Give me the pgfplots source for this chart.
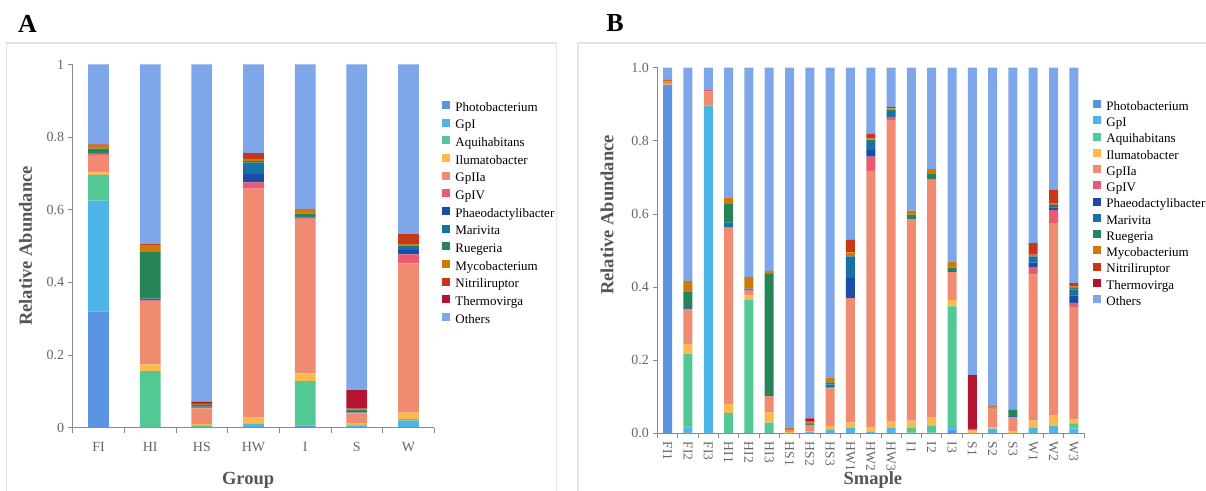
\documentclass[border=0pt]{standalone}
\usepackage{fontspec}
\setmainfont{Liberation Serif}
\usepackage{pgfplots}
\usepackage{pgfplotstable}
\pgfplotsset{compat=1.18}
\definecolor{cPhoto}{HTML}{5B94E2}
\definecolor{cGpI}{HTML}{4FB4E6}
\definecolor{cAqui}{HTML}{52C994}
\definecolor{cIlum}{HTML}{FDB94B}
\definecolor{cGpIIa}{HTML}{F08A70}
\definecolor{cGpIV}{HTML}{EA5A73}
\definecolor{cPhaeo}{HTML}{1C4CA8}
\definecolor{cMari}{HTML}{1672A4}
\definecolor{cRueg}{HTML}{258557}
\definecolor{cMyco}{HTML}{CE7A08}
\definecolor{cNitri}{HTML}{C83818}
\definecolor{cTherm}{HTML}{B41430}
\definecolor{cOthers}{HTML}{7DA7E8}
\definecolor{framegray}{HTML}{E4E4E4}
\definecolor{axisgray}{HTML}{8A8A8A}
\definecolor{tickgray}{HTML}{666666}
\definecolor{labelgray}{HTML}{555555}

\pgfplotstableread{
idx Photo GpI Aqui Ilum GpIIa GpIV Phaeo Mari Rueg Myco Nitri Therm Others
0 0.319 0.306 0.071 0.007 0.048 0.002 0 0.002 0.013 0.010 0.002 0 0.220
1 0 0.002 0.153 0.019 0.175 0.001 0.001 0.004 0.130 0.018 0.002 0 0.495
2 0 0.002 0.004 0.004 0.043 0.002 0.001 0.002 0.004 0.003 0.003 0.003 0.929
3 0.002 0.007 0.001 0.017 0.631 0.017 0.023 0.032 0.004 0.006 0.016 0 0.244
4 0.004 0.002 0.122 0.021 0.425 0.002 0 0.002 0.011 0.013 0 0 0.398
5 0.001 0.005 0.001 0.005 0.027 0.002 0 0.002 0.005 0.002 0.002 0.051 0.897
6 0.002 0.017 0.004 0.018 0.411 0.025 0.012 0.012 0.001 0.003 0.028 0 0.467
}\tabA

\pgfplotstableread{
idx Photo GpI Aqui Ilum GpIIa GpIV Phaeo Mari Rueg Myco Nitri Therm Others
0 0.953 0 0 0.002 0.007 0 0 0 0.002 0.003 0 0 0.033
1 0.002 0.014 0.202 0.025 0.095 0.002 0 0.003 0.045 0.028 0 0 0.584
2 0 0.893 0.004 0 0.038 0.004 0 0 0 0 0 0 0.061
3 0 0 0.056 0.024 0.481 0.002 0 0.014 0.050 0.018 0 0 0.355
4 0 0 0.365 0.012 0.012 0.002 0.002 0.003 0 0.031 0 0 0.573
5 0 0 0.029 0.028 0.043 0.002 0 0 0.334 0.008 0 0 0.556
6 0 0 0 0.003 0.006 0 0 0 0.002 0.005 0 0 0.984
7 0 0.003 0 0.003 0.017 0 0 0 0.003 0.003 0.003 0.009 0.959
8 0 0.011 0 0.009 0.103 0.003 0 0.007 0.006 0.014 0 0 0.847
9 0 0.014 0 0.015 0.341 0 0.055 0.059 0 0.011 0.034 0 0.471
10 0 0.003 0 0.014 0.701 0.039 0.018 0.025 0.003 0.003 0.014 0 0.180
11 0 0.014 0 0.018 0.823 0.010 0 0.017 0.003 0.004 0.003 0 0.108
12 0 0.002 0.012 0.021 0.551 0 0 0 0.012 0.011 0 0 0.391
13 0 0.002 0.018 0.024 0.650 0 0 0 0.015 0.014 0 0 0.277
14 0.011 0.006 0.330 0.018 0.076 0 0 0.003 0.009 0.017 0 0 0.530
15 0 0 0 0.005 0.003 0 0 0 0 0.004 0 0.147 0.841
16 0 0.013 0 0.004 0.048 0.003 0 0 0.002 0.005 0 0 0.925
17 0 0 0 0.005 0.039 0 0 0.003 0.017 0 0 0 0.936
18 0 0.014 0 0.021 0.400 0.020 0.012 0.017 0 0.005 0.031 0 0.480
19 0 0.021 0 0.029 0.525 0.036 0.007 0.007 0 0.003 0.037 0 0.335
20 0 0.013 0.014 0.011 0.307 0.012 0.020 0.016 0.005 0.004 0.009 0 0.589
}\tabB

\pgfplotsset{
  common/.style={
    scale only axis,
    ybar stacked,
    ymin=0, ymax=1,
    axis lines*=left,
    axis line style={color=axisgray, line width=1pt},
    tick style={color=axisgray, line width=0.8pt},
    tick align=outside,
    major tick length=5pt,
    ytick={0,0.2,0.4,0.6,0.8,1},
    x tick label as interval,
    /pgf/number format/assume math mode=true,
    ticklabel style={color=tickgray, font=\fontsize{14}{14}\selectfont},
    label style={font=\fontsize{18.5}{18.5}\selectfont\bfseries, color=labelgray},
    legend cell align=left,
    legend style={draw=none, fill=none, inner sep=0pt, anchor=north west,
      font=\fontsize{13}{13}\selectfont,
      nodes={inner sep=0pt, text height=9.5pt, text depth=3pt}},
    legend image code/.code={\fill[##1] (0pt,-1pt) rectangle (8pt,7pt); \path (13.5pt,0pt);},
    every axis plot/.append style={draw=none},
  }
}

\newcommand{\allplots}[1]{%
  \addplot[fill=cPhoto] table[x=idx,y=Photo]{#1};
  \addplot[fill=cGpI] table[x=idx,y=GpI]{#1};
  \addplot[fill=cAqui] table[x=idx,y=Aqui]{#1};
  \addplot[fill=cIlum] table[x=idx,y=Ilum]{#1};
  \addplot[fill=cGpIIa] table[x=idx,y=GpIIa]{#1};
  \addplot[fill=cGpIV] table[x=idx,y=GpIV]{#1};
  \addplot[fill=cPhaeo] table[x=idx,y=Phaeo]{#1};
  \addplot[fill=cMari] table[x=idx,y=Mari]{#1};
  \addplot[fill=cRueg] table[x=idx,y=Rueg]{#1};
  \addplot[fill=cMyco] table[x=idx,y=Myco]{#1};
  \addplot[fill=cNitri] table[x=idx,y=Nitri]{#1};
  \addplot[fill=cTherm] table[x=idx,y=Therm]{#1};
  \addplot[fill=cOthers] table[x=idx,y=Others]{#1};
  \legend{Photobacterium,GpI,Aquihabitans,Ilumatobacter,GpIIa,GpIV,Phaeodactylibacter,Marivita,Ruegeria,Mycobacterium,Nitriliruptor,Thermovirga,Others}
}

\begin{document}
\begin{tikzpicture}[x=1pt,y=1pt]
\path[use as bounding box] (0,0) rectangle (1206,490);
\draw[color=framegray, line width=1.2pt] (6.7,-3) -- (6.7,447) -- (556.7,447) -- (556.7,-3);
\draw[color=framegray, line width=1.2pt] (578,-3) -- (578,447) -- (1212,447);
\node[font=\fontsize{26}{26}\selectfont\bfseries] at (27.5,466.5) {A};
\node[font=\fontsize{26}{26}\selectfont\bfseries] at (615,466.5) {B};

\begin{axis}[common,
  at={(72.7pt,62.5pt)}, anchor=south west,
  width=361.6pt, height=363pt,
  xmin=-0.5, xmax=6.5,
  bar width=20.7pt,
  xtick={-0.5,0.5,1.5,2.5,3.5,4.5,5.5,6.5},
  xticklabels={FI,HI,HS,HW,I,S,W},
  xticklabel style={yshift=-6pt},
  yticklabels={0,0.2,0.4,0.6,0.8,1},
  xlabel={Group}, ylabel={Relative Abundance},
  xlabel style={at={(axis description cs:0.485,-0.1446)}, anchor=center},
  ylabel style={at={(axis description cs:-0.130,0.5)}, anchor=center},
  legend style={at={(1.0205,0.900)}, row sep=4.4pt},
]
\allplots{\tabA}
\end{axis}

\begin{axis}[common,
  at={(657.5pt,56.7pt)}, anchor=south west,
  width=426.5pt, height=365.6pt,
  xmin=-0.5, xmax=20.5,
  bar width=9pt,
  xtick={-0.5,0.5,...,20.5},
  xticklabels={FI1,FI2,FI3,HI1,HI2,HI3,HS1,HS2,HS3,HW1,HW2,HW3,I1,I2,I3,S1,S2,S3,W1,W2,W3},
  x tick label style={rotate=-90, anchor=west, font=\fontsize{13.5}{13.5}\selectfont},
  yticklabels={0.0,0.2,0.4,0.6,0.8,1.0},
  xlabel={Smaple}, ylabel={Relative Abundance},
  xlabel style={at={(axis description cs:0.505,-0.1277)}, anchor=center},
  ylabel style={at={(axis description cs:-0.1184,0.597)}, anchor=center},
  legend style={at={(1.0204,0.912)}, row sep=3.0pt},
]
\allplots{\tabB}
\end{axis}
\end{tikzpicture}
\end{document}
